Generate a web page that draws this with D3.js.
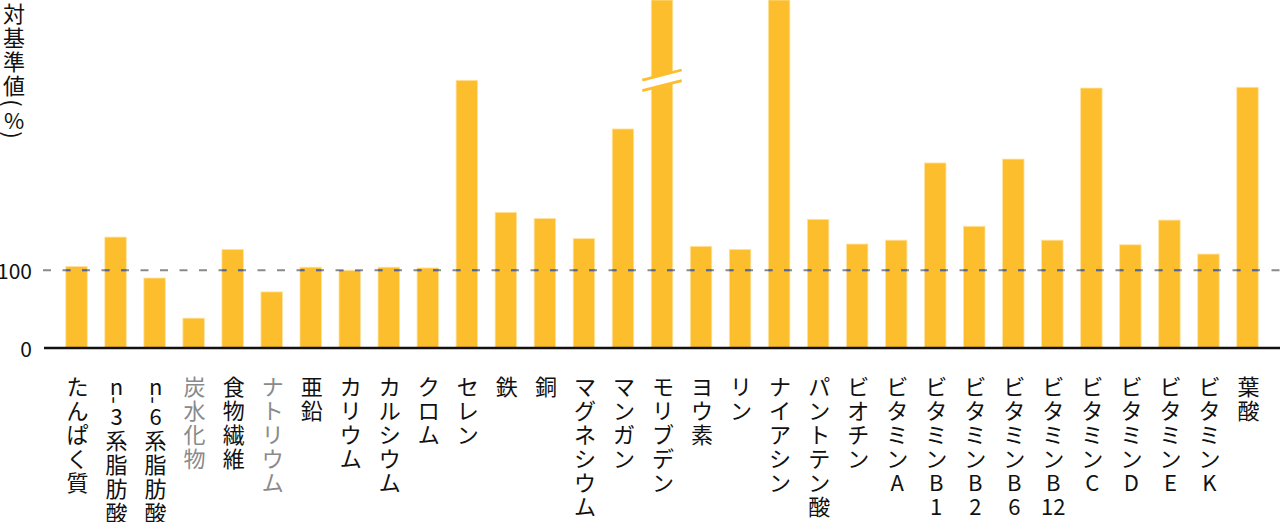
<!DOCTYPE html>
<html><head><meta charset="utf-8">
<script src="https://cdn.jsdelivr.net/npm/d3@7"></script>
<style>body{margin:0;background:#fff}svg{display:block}</style>
</head><body>
<svg id="chart" width="1280" height="522"></svg>
<script>
// ---- data ----
const categories = ["たんぱく質","n-3系脂肪酸","n-6系脂肪酸","炭水化物","食物繊維","ナトリウム","亜鉛","カリウム","カルシウム","クロム","セレン","鉄","銅","マグネシウム","マンガン","モリブデン","ヨウ素","リン","ナイアシン","パントテン酸","ビオチン","ビタミンA","ビタミンB1","ビタミンB2","ビタミンB6","ビタミンB12","ビタミンC","ビタミンD","ビタミンE","ビタミンK","葉酸"];
const values = [105,143,90,38,127,72,104,100,104,103,346,175,167,141,283,1000,131,127,455,166,134,139,239,157,244,139,336,133,165,121,337];
const mutedCategories = ["炭水化物","ナトリウム"];
const brokenCategories = ["モリブデン"];
const breakValue = 346;
const referenceValue = 100;
const yTicks = [0,100];
const yTitle = "対基準値(%)";
const axisMax = 450;

// ---- layout ----
const svg = d3.select("#chart");
const font = "'Noto Sans CJK JP','Noto Sans',sans-serif";
const barColor = "#FDBE2E";
const x = d3.scaleBand().domain(categories).range([57,1267]).paddingInner(0.45).paddingOuter(0.225);
const y = d3.scaleLinear().domain([0,axisMax]).range([347.5,0]).clamp(true);
const bw = x.bandwidth();

// bars
const defs = svg.append("defs");
const clip = defs.append("clipPath").attr("id","barclip");
clip.selectAll("rect").data(categories).join("rect")
  .attr("x",d=>x(d)).attr("width",bw)
  .attr("y",(d,i)=>y(values[i])).attr("height",(d,i)=>y(0)-y(values[i]));

svg.append("g").selectAll("rect").data(categories).join("rect")
  .attr("x",d=>x(d)).attr("width",bw)
  .attr("y",(d,i)=>y(values[i])).attr("height",(d,i)=>y(0)-y(values[i]))
  .attr("fill",barColor).attr("stroke","#FFE2A0").attr("stroke-width",0.8);

// break marks
const slope = -0.254;
brokenCategories.forEach(c=>{
  const cx = x(c)+bw/2, cy = y(breakValue);
  const half = 5.3;
  const g = svg.append("g");
  const ext0 = bw/2+1, ext1 = bw/2+9;
  g.append("polygon").attr("fill","#fff").attr("points",[
    [cx-ext0, cy-half - slope*ext0],[cx+ext0, cy-half + slope*ext0],
    [cx+ext0, cy+half + slope*ext0],[cx-ext0, cy+half - slope*ext0]].map(p=>p.join(",")).join(" "));
  [-half,half].forEach(o=>{
    g.append("line").attr("x1",cx-ext1).attr("x2",cx+ext1)
      .attr("y1",cy+o - slope*ext1).attr("y2",cy+o + slope*ext1)
      .attr("stroke",barColor).attr("stroke-width",2.8);
  });
});

// reference line
const refY = y(referenceValue);
svg.append("line").attr("x1",43).attr("x2",1280).attr("y1",refY).attr("y2",refY)
  .attr("stroke","#8a8a8a").attr("stroke-width",2).attr("stroke-dasharray","8 11.5");
svg.append("line").attr("x1",43).attr("x2",1280).attr("y1",refY).attr("y2",refY)
  .attr("clip-path","url(#barclip)")
  .attr("stroke","#56689a").attr("stroke-width",2).attr("stroke-dasharray","8 11.5");

// baseline
svg.append("line").attr("x1",44).attr("x2",1280).attr("y1",y(0)+0.5).attr("y2",y(0)+0.5)
  .attr("stroke","#111").attr("stroke-width",2.5);

// y tick labels
svg.append("g").selectAll("text").data(yTicks).join("text")
  .attr("x",32).attr("y",d=>y(d)).attr("text-anchor","end").attr("dominant-baseline","central")
  .attr("font-family",font).attr("font-size",21).attr("fill","#111").text(d=>d);

// vertical text helper
function tokenize(s){
  const out=[]; let i=0;
  while(i<s.length){
    const ch=s[i];
    if(/[0-9]/.test(ch)){ let j=i; while(j<s.length && /[0-9]/.test(s[j])) j++; out.push(s.slice(i,j)); i=j; }
    else { out.push(ch); i++; }
  }
  return out;
}
function advance(t){
  if(t==="-") return 6;
  if(t==="(" || t===")") return 14;
  if(t==="%") return 18;
  return 24;
}
function drawVertical(g, label, cx, top, fill){
  let pos = top;
  tokenize(label).forEach(t=>{
    const a = advance(t), cy = pos + a/2;
    const rot = (t==="-"||t==="("||t===")");
    g.append("text")
      .attr("transform",`translate(${cx},${cy})`+(rot?" rotate(90)":""))
      .attr("text-anchor","middle").attr("dominant-baseline","central")
      .attr("font-family",font).attr("font-size",22).attr("fill",fill).text(t);
    pos += a;
  });
}

const lg = svg.append("g");
categories.forEach(c=>{
  drawVertical(lg, c, x(c)+bw/2+1, 373, mutedCategories.includes(c) ? "#8a8a8a" : "#111");
});
drawVertical(svg.append("g"), yTitle, 14, 0, "#111");
</script>
</body></html>
